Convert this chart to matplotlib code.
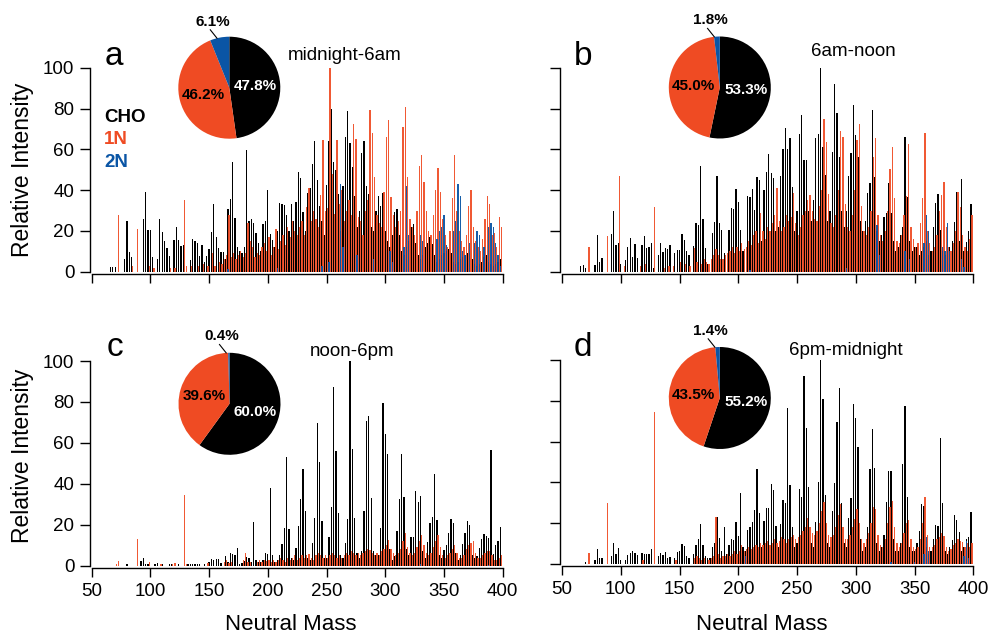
import matplotlib
matplotlib.use('Agg')
import matplotlib.pyplot as plt
import numpy as np

plt.rcParams['font.family'] = ['Liberation Sans', 'DejaVu Sans']

# ---------------- data (neutral mass, relative intensity) ----------------
a_cho = [(66,2.5),(68,2.5),(70,2.5),(78,6),(80,25),(82,9.5),(84,7),(94,26),(96,39),(98,20.5),(100,20.5),
         (102,7),(106,6),(108,26),(110,19.5),(112,15),(114,11.5),(116,7.5),(120,15.5),(122,22),(124,15.5),
         (126,12.5),(128,13),(134,5.7),(136,16),(138,15),(140,14),(142,7.5),(144,13),(146,5),(148,7.5),
         (150,11),(152,19.5),(154,33),(156,17),(158,11.5),(160,9.5),(162,9.5),(164,6),(166,30.5),(168,35.5),
         (170,54),(172,26.5),(174,12),(176,10),(178,9),(180,12),(182,59.5),(184,25),(186,26),(188,24),
         (190,19),(192,14),(194,10),(196,23.5),(198,25),(200,40),(202,18.5),(204,15.5),(206,12),(208,20),
         (210,33.5),(212,33),(214,32.5),(216,28),(218,20),(220,33),(222,25),(224,34),(226,49),(228,46),
         (230,29.5),(232,20),(234,38.5),(236,41),(238,53),(240,64),(242,45),(244,32),(246,25),(248,18),
         (250,42.5),(252,64),(254,80),(256,54),(258,50),(260,38),(262,20),(264,42),(266,66),(268,79),
         (270,63),(272,51.5),(274,37),(276,22),(278,30),(280,58),(282,64),(284,42),(286,38),(288,22),
         (290,20),(292,30),(294,37),(296,32),(298,38.5),(300,20),(302,15),(304,12),(306,18),(308,29.5),
         (310,30.5),(312,18),(314,10),(316,8),(318,12),(320,15),(322,22),(324,23.5),(326,14),(328,8),
         (330,6),(332,8),(334,12),(336,14),(338,17),(340,13.5),(342,8),(344,5),(346,6),(348,8),(350,9),
         (352,10),(354,11),(356,9),(358,5),(360,4),(362,5),(364,6),(366,7),(368,8),(370,9),(372,9),
         (374,6),(376,4),(378,3),(380,4),(382,5),(384,7),(386,8),(388,5),(390,4),(392,3),(394,4),(396,5),(398,6)]
a_1n = [(73,28),(85,3),(89,21),(99,3),(103,2),(117,2),(121,2),(129,35),(131,3),(135,3),(141,3),(145,4),
        (149,3),(153,9),(155,3),(159,5),(161,4),(163,6),(165,8),(167,28),(169,7),(171,9),(173,6),(175,8),
        (177,10),(179,7),(181,9),(183,24),(185,15),(187,12),(189,7),(191,9),(193,8),(195,12),(197,14),
        (199,10),(201,17),(203,8),(205,12),(207,21),(209,11),(211,15),(213,18),(215,13),(217,22),(219,17),
        (221,25),(223,20),(225,18),(227,22),(229,25),(231,18),(233,31.5),(235,41),(237,25),(239,30),
        (241,26),(243,22),(245,37.5),(247,64.5),(249,30),(251,31),(253,100),(255,48),(257,28.5),(259,64.5),
        (261,33),(263,40),(265,25),(267,30),(269,35),(271,28),(273,72.5),(275,65),(277,27),(279,25),
        (281,18),(283,30),(285,35),(287,79.5),(289,68),(291,46.5),(293,28),(295,24),(297,22),(299,39),
        (301,66),(303,74.5),(305,36.5),(307,28),(309,22),(311,25),(313,30),(315,71),(317,80.5),(319,46.5),
        (321,26),(323,22),(325,18),(327,30),(329,52),(331,57),(333,44),(335,30),(337,20),(339,18),(341,28),
        (343,40),(345,51),(347,39),(349,26),(351,18),(353,12),(355,20),(357,36),(359,57),(361,30),(363,20),
        (365,15),(367,12),(369,18),(371,32),(373,40),(375,22),(377,15),(379,12),(381,10),(383,16),(385,26),
        (387,37),(389,33),(391,18),(393,19),(395,12),(397,27),(399,22)]
a_2n = [(166,1.5),(208,2),(246,3),(252,5),(262,43),(264,12),(276,8),(290,6),(304,10),(306,5),(316,12),
        (318,42),(320,18),(330,18),(332,15),(344,16),(346,20),(348,22),(350,28),(352,13),(358,20),(360,25),
        (362,43),(364,37),(366,10),(368,8),(372,14),(376,14),(378,20),(380,18),(384,12),(388,22),(390,24),
        (392,22),(394,14),(396,8),(398,3)]

b_cho = [(66,2.8),(68,3.3),(70,1.6),(78,3.3),(80,18),(82,5),(84,6.5),(92,18.3),(94,29.6),(96,13),(98,14.2),
         (100,4),(104,5.7),(106,12.3),(108,16.7),(110,7),(112,13.6),(114,6.5),(118,13),(120,17.6),(122,11.4),
         (124,12),(126,14.2),(128,1.6),(132,8.2),(134,13.9),(136,9.8),(138,11.4),(140,11),(142,13),(146,9),
         (148,10.6),(150,10.6),(152,18.3),(154,15.5),(156,10.3),(158,8.2),(162,12.7),(164,24),(166,22.9),
         (168,51.8),(170,25.7),(172,11.4),(174,4),(178,18.8),(180,24.5),(182,47),(184,24),(186,20.4),(188,9),
         (192,20.4),(194,31),(196,30.6),(198,40.5),(200,34.3),(202,20.4),(204,10),(208,37),(210,36.8),
         (212,40.5),(214,30.2),(216,46.2),(218,45),(220,15),(222,40),(224,48.7),(226,57.5),(228,48.2),
         (230,46),(232,20),(234,22),(236,47),(238,60),(240,70.6),(242,60),(244,65.4),(246,41.7),(248,20),
         (250,30),(252,67.5),(254,77),(256,54.7),(258,54.7),(260,30),(262,25),(264,35),(266,65.7),(268,67.5),
         (270,100),(272,61.3),(274,47.4),(276,25),(278,30),(280,58.8),(282,91.8),(284,77.6),(286,56.4),
         (288,30),(290,22),(292,30),(294,47),(296,58),(298,81.7),(300,67),(302,56.4),(304,25),(306,20),
         (308,25),(310,38.4),(312,43.3),(314,79.2),(316,46.6),(318,20),(320,15),(322,18),(324,27),(326,28.6),
         (328,43.3),(330,28.6),(332,15),(334,10),(336,12),(338,18),(340,22),(342,66.2),(344,36.8),(346,15),
         (348,10),(350,12.3),(352,12.3),(354,8),(356,10),(358,12),(360,15),(362,8),(364,10),(366,22),
         (368,33.8),(370,37.9),(372,20.4),(374,10),(376,8),(378,10),(380,12),(382,15),(384,24.5),(386,39.2),
         (388,15),(390,45.3),(392,10),(394,14.7),(396,20),(398,33.2)]
b_1n = [(73,12.3),(89,17.5),(99,47),(103,3),(117,3),(121,4),(129,31.5),(137,2),(141,3),(145,3),(151,5),
        (155,4),(159,3),(163,11.4),(165,5),(169,4),(171,6),(173,5),(175,4),(177,6),(179,8),(181,11),(183,8),
        (185,6),(187,6),(189,8),(191,9),(193,10),(195,12),(197,9),(199,12),(201,10),(203,14),(205,11),
        (207,12),(209,15),(211,13),(213,18),(215,20),(217,14),(219,28.6),(221,20),(223,16),(225,22),(227,20),
        (229,24),(231,28),(233,41.2),(235,25),(237,20),(239,22),(241,28),(243,25),(245,27),(247,38.7),
        (249,24),(251,18),(253,22),(255,28),(257,30),(259,35),(261,37.6),(263,30),(265,26),(267,25),(269,32),
        (271,40),(273,74.8),(275,63.7),(277,38),(279,24),(281,22),(283,28),(285,40),(287,69),(289,66.2),
        (291,33),(293,22),(295,20),(297,28),(299,40),(301,64.5),(303,72.4),(305,32),(307,20),(309,18),
        (311,22),(313,30),(315,56.4),(317,65.4),(319,28),(321,18),(323,15),(325,20),(327,30),(329,50.2),
        (331,61.3),(333,36),(335,15),(337,14),(339,18),(341,28),(343,37),(345,62.4),(347,22),(349,16),
        (351,12),(353,14),(355,24),(357,36),(359,67.8),(361,20),(363,14),(365,10),(367,12),(369,18),(371,30),
        (373,37.6),(375,44),(377,22),(379,12),(381,10),(383,14),(385,20),(387,39),(389,31.5),(391,18),
        (393,12),(395,10),(397,15.8),(399,27.8)]
b_2n = [(210,1),(292,2),(318,23),(320,8),(342,10),(346,6),(358,14),(360,28),(362,20),(374,12),(376,10),
        (378,24),(380,10),(390,6),(392,2.5)]

c_cho = [(80,1),(92,2.4),(94,3.6),(96,1),(98,1),(104,1),(106,1.1),(110,1),(116,1),(118,1),(124,1),(132,1),
         (134,1),(136,1),(138,1),(140,1),(142,1),(146,1),(150,2),(152,3.3),(154,3),(156,3.4),(158,3.4),
         (160,1.5),(164,4.7),(166,2),(168,6),(170,5.7),(172,5.2),(174,8.5),(176,1),(178,1.5),(180,2.3),
         (182,4.4),(184,3.6),(186,2),(188,21.5),(190,2.8),(192,2),(194,2),(196,3),(198,6),(200,5.7),(202,38),
         (204,5.2),(206,2),(208,3),(210,5),(212,10.4),(214,18.2),(216,53),(218,17.8),(220,4),(222,3),
         (224,8.5),(226,19.5),(228,32.4),(230,47),(232,26.7),(234,4),(236,3),(238,10.9),(240,23.1),
         (242,69.6),(244,50.8),(246,21.8),(248,4),(250,4),(252,13.8),(254,28.5),(256,87.2),(258,56),
         (260,25.9),(262,5),(264,4),(266,11.2),(268,22.8),(270,100),(272,57),(274,23.1),(276,6),(278,4),
         (280,7.3),(282,26.7),(284,70.9),(286,73.1),(288,32.9),(290,7),(292,5),(294,5.2),(296,18.6),
         (298,79.7),(300,64.3),(302,54.6),(304,8),(306,3),(308,4.7),(310,17.1),(312,32.6),(314,54.4),
         (316,33.4),(318,8),(320,5),(322,13.8),(324,14.2),(326,36.5),(328,31.3),(330,34),(332,7),(334,4),
         (336,11.7),(338,20.7),(340,23.6),(342,44.8),(344,22.3),(346,5),(348,4),(350,7.7),(352,10.1),
         (354,15.8),(356,22.6),(358,20.7),(360,6),(362,3),(364,5.2),(366,10.4),(368,15.8),(370,22),
         (372,19.9),(374,5),(376,4),(378,4.7),(380,8.5),(382,12.9),(384,15.3),(386,14.5),(388,13.4),
         (390,56.5),(392,5.7),(394,10.1),(396,12.2),(398,19.1)]
c_1n = [(71,1),(73,2.3),(89,13),(99,2),(109,1),(119,1),(121,1.5),(129,34.5),(131,1),(149,1.5),(163,2),
        (165,3),(167,1.5),(169,2),(179,3),(181,6),(183,2),(185,2),(191,2),(193,3),(195,2),(197,3),(199,2.5),
        (201,3),(203,2),(205,3),(207,2),(209,3),(211,4),(213,3),(215,2),(217,4),(219,3),(221,4),(223,5),
        (225,3),(227,4),(229,5),(231,4),(233,5),(235,5.7),(237,4),(239,3),(241,5),(243,6),(245,5),(247,4),
        (249,5),(251,4),(253,5),(255,6),(257,5),(259,4),(261,5),(263,4),(265,5),(267,6),(269,5),(271,7),
        (273,6),(275,5),(277,6),(279,5),(281,6),(283,7),(285,8),(287,7.7),(289,6),(291,5),(293,6),(295,5),
        (297,7),(299,8),(301,10),(303,12.5),(305,8),(307,6),(309,5),(311,6),(313,8),(315,12),(317,15.8),
        (319,9),(321,6),(323,5),(325,6),(327,9),(329,12),(331,14.8),(333,10),(335,6),(337,5),(339,6),(341,9),
        (343,12),(345,14.8),(347,9),(349,5),(351,4),(353,5),(355,6),(357,8),(359,10.1),(361,6),(363,4),
        (365,4),(367,5),(369,8),(371,10),(373,11),(375,12.2),(377,6),(379,4),(381,4),(383,5),(385,6),(387,7),
        (389,7.3),(391,5),(393,3),(395,3),(397,4),(399,5.2)]
c_2n = [(330,1),(388,0.5)]

d_cho = [(70,1),(78,1.8),(80,7),(82,2.6),(84,2.6),(92,3.8),(94,10),(96,4.8),(98,7.5),(100,2),(104,2),
         (106,4.3),(108,5.1),(110,6.4),(112,5.1),(114,4.3),(118,5.1),(120,4.8),(122,4.8),(124,4.8),(126,7),
         (132,3.8),(134,5.1),(136,4.3),(138,5.9),(140,3),(142,3.1),(146,3),(148,5.6),(150,6.4),(152,9.5),
         (154,8.7),(156,4),(158,3),(162,5),(164,9.2),(166,12),(168,19.5),(170,9.2),(172,4),(174,3),(176,3),
         (178,8.4),(180,10.3),(182,22.8),(184,12.5),(186,6),(188,18.2),(190,5),(192,9.2),(194,12),(196,11.6),
         (198,20.7),(200,13.6),(202,35),(204,8),(206,6),(208,16.6),(210,18.2),(212,20.7),(214,26.4),
         (216,46.4),(218,24.7),(220,8),(222,21),(224,27.2),(226,27.2),(228,39.2),(230,36.2),(232,18.5),
         (234,8),(236,19.5),(238,31.3),(240,29.7),(242,76.4),(244,38.7),(246,18.2),(248,8),(250,10),
         (252,36.5),(254,33),(256,92.3),(258,66.9),(260,37.9),(262,10),(264,8),(266,20.7),(268,40.3),
         (270,100),(272,80.8),(274,33.8),(276,10),(278,8),(280,26),(282,39.5),(284,69.8),(286,86.5),
         (288,29.7),(290,10),(292,8),(294,22.3),(296,32.1),(298,78.5),(300,71.5),(302,57.2),(304,12),(306,6),
         (308,8),(310,18.2),(312,46.4),(314,66),(316,47.2),(318,10),(320,6),(322,8),(324,14),(326,30.5),
         (328,45.7),(330,45.7),(332,12),(334,6),(336,6),(338,10),(340,49),(342,77.5),(344,32.6),(346,8),
         (348,6),(350,6),(352,10),(354,16.2),(356,29.3),(358,28.4),(360,8),(362,5),(364,6),(366,12),(368,19),
         (370,18.5),(372,62),(374,29.7),(376,6),(378,5),(380,8),(382,11.6),(384,23.9),(386,21.5),(388,15.7),
         (390,6),(392,8),(394,12),(396,13),(398,25.2)]
d_1n = [(73,5.1),(89,30),(119,2),(129,74.7),(147,2),(163,3),(165,4),(167,3),(169,2),(171,3),(175,2),(177,3),
        (179,4),(181,23),(183,5),(185,3),(187,4),(189,4),(191,5),(193,4),(195,5),(197,6),(199,5),(201,6),
        (203,9.2),(205,6),(207,7),(209,8),(211,7),(213,8),(215,9),(217,8),(219,10),(221,9),(223,10),(225,11),
        (227,9),(229,10),(231,12),(233,10),(235,11),(237,13),(239,12),(241,10),(243,12),(245,13.3),(247,14),
        (249,12),(251,13),(253,14),(255,16),(257,18),(259,22.3),(261,18),(263,15),(265,14),(267,16),(269,20),
        (271,26),(273,30.5),(275,20),(277,14),(279,13),(281,14),(283,18),(285,24),(287,29.3),(289,18),
        (291,12),(293,12),(295,14),(297,18),(299,22),(301,26.7),(303,20),(305,12),(307,10),(309,12),(311,15),
        (313,20),(315,27.7),(317,27),(319,14),(321,9),(323,8),(325,12),(327,20),(329,28),(331,30.8),(333,18),
        (335,10),(337,8),(339,10),(341,15),(343,20),(345,21.5),(347,12),(349,8),(351,7),(353,8),(355,12),
        (357,20),(359,32.6),(361,14),(363,8),(365,8),(367,9),(369,12),(371,13),(373,15),(375,13.6),(377,8),
        (379,6),(381,7),(383,9),(385,10),(387,12),(389,11),(391,10.8),(393,8),(395,10),(397,8),(399,10)]
d_2n = [(206,4),(330,1),(350,1),(358,5),(360,13),(362,6),(392,4),(394,11.3),(396,3)]

# pie fractions (%) : CHO, 1N, 2N
a_pie = [47.8, 46.2, 6.1]
b_pie = [53.3, 45.0, 1.8]
c_pie = [60.0, 39.6, 0.4]
d_pie = [55.2, 43.5, 1.4]

titles = ['midnight-6am', '6am-noon', 'noon-6pm', '6pm-midnight']
letters = ['a', 'b', 'c', 'd']
series_names = ['CHO', '1N', '2N']
x_ticks = [50, 100, 150, 200, 250, 300, 350, 400]
y_ticks = [0, 20, 40, 60, 80, 100]

# ---------------- style ----------------
BLACK = '#000000'
ORANGE = '#EF4B23'
BLUE = '#0A55A5'
colors = [BLACK, ORANGE, BLUE]

W, H = 993, 637
fig = plt.figure(figsize=(W / 100, H / 100), dpi=100)

def rect(l, r, t, b):
    return [l / W, 1 - b / H, (r - l) / W, (b - t) / H]

panels = [
    dict(rect=rect(91.7, 502.7, 67.7, 271.7), data=(a_cho, a_1n, a_2n), pie=a_pie,
         pc=(229.3, 87.7), title=(345, 60), letter=(114, 65), xl=False, yl=True),
    dict(rect=rect(562, 973.3, 67.7, 271.7), data=(b_cho, b_1n, b_2n), pie=b_pie,
         pc=(719.8, 87.5), title=(853.8, 56.5), letter=(583.5, 65), xl=False, yl=False),
    dict(rect=rect(91.7, 502.7, 361, 565.7), data=(c_cho, c_1n, c_2n), pie=c_pie,
         pc=(229.5, 403.8), title=(352, 356), letter=(115, 356), xl=True, yl=True),
    dict(rect=rect(562, 973.3, 360.3, 563.7), data=(d_cho, d_1n, d_2n), pie=d_pie,
         pc=(719.8, 398.0), title=(845.5, 355), letter=(583, 356), xl=True, yl=False),
]

R = 51.0  # pie radius in px

for i, p in enumerate(panels):
    ax = fig.add_axes(p['rect'])
    for ser, col, alpha in zip(p['data'], colors, [1.0, 0.92, 0.95]):
        m = [v[0] for v in ser]
        h = [v[1] for v in ser]
        ax.bar(m, h, width=1.1, color=col, linewidth=0, alpha=alpha)
    ax.set_xlim(50, 400)
    ax.set_ylim(0, 100)
    for s in ['top', 'right']:
        ax.spines[s].set_visible(False)
    ax.spines['left'].set_position(('outward', 1.2))
    ax.spines['bottom'].set_position(('outward', 1.6))
    ax.spines['left'].set_bounds(0, 100)
    ax.spines['bottom'].set_bounds(50, 400)
    ax.spines['left'].set_linewidth(1.0)
    ax.spines['bottom'].set_linewidth(1.0)
    ax.set_xticks(x_ticks)
    ax.set_yticks(y_ticks)
    ax.tick_params(axis='y', direction='out', length=7.2, width=1.0, labelsize=13.5, pad=4)
    ax.tick_params(axis='x', direction='out', length=6.5, width=1.0, labelsize=13.5, pad=4.5)
    if not p['xl']:
        ax.set_xticklabels([])
    if not p['yl']:
        ax.set_yticklabels([])

    # titles and panel letters
    fig.text(p['title'][0] / W, 1 - p['title'][1] / H, titles[i], fontsize=13.5,
             ha='center', va='baseline')
    fig.text(p['letter'][0] / W, 1 - p['letter'][1] / H, letters[i], fontsize=24,
             ha='center', va='baseline')

    # pie chart
    cx, cy = p['pc']
    pax = fig.add_axes([(cx - R) / W, 1 - (cy + R) / H, 2 * R / W, 2 * R / H])
    vals = p['pie']
    pax.pie(vals, colors=colors, startangle=90, counterclock=False, radius=1.0,
            wedgeprops=dict(linewidth=0))
    pax.set_xlim(-1, 1)
    pax.set_ylim(-1, 1)
    pax.set_aspect('equal')
    pax.axis('off')
    tot = sum(vals)
    cum = 0.0
    for k, v in enumerate(vals):
        mid = np.deg2rad(90 - (cum + v / 2) / tot * 360)
        cum += v
        lab = f'{v:.1f}%'
        if k < 2:
            pax.text(0.52 * np.cos(mid), 0.52 * np.sin(mid), lab, fontsize=11,
                     fontweight='bold', color='white' if k == 0 else 'black',
                     ha='center', va='center')
        else:
            ang = mid + np.deg2rad(3)
            x0, y0 = np.cos(ang), np.sin(ang)
            x1, y1 = x0 - 6.7 / R, y0 + 8.4 / R
            pax.plot([x0, x1], [y0, y1], color='black', lw=0.8, clip_on=False)
            pax.text(x1 + 2.4 / R, y1 + 8.3 / R, lab, fontsize=11, fontweight='bold',
                     ha='center', va='center', clip_on=False)

# legend texts
for name, col, yy in zip(series_names, colors, [117, 139.5, 162.5]):
    fig.text(104 / W, 1 - yy / H, name, fontsize=13.5, fontweight='bold', color=col,
             ha='left', va='center')

# axis labels
for yy in [170, 456]:
    fig.text(23 / W, 1 - yy / H, 'Relative Intensity', fontsize=16.5, rotation=90,
             ha='center', va='center')
for xx in [291, 761.7]:
    fig.text(xx / W, 1 - 635.5 / H, 'Neutral Mass', fontsize=16, ha='center', va='bottom')

fig.savefig('out.png', dpi=100)
